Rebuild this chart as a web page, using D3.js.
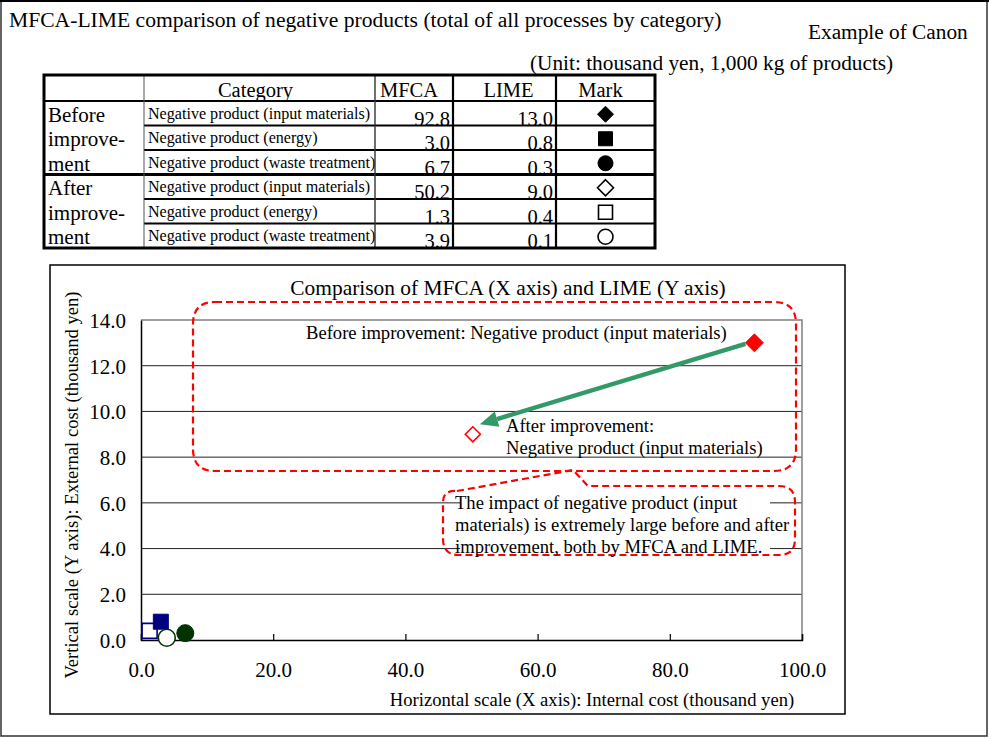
<!DOCTYPE html>
<html>
<head>
<meta charset="utf-8">
<script src="https://cdn.jsdelivr.net/npm/d3@7"></script>
<style>
  html, body { margin: 0; padding: 0; background: #fff; }
  svg { display: block; font-family: "Liberation Serif", "Times New Roman", serif; }
</style>
</head>
<body>
<svg id="page" width="989" height="738"></svg>
<script>
// ---- data ----
const phases = ["Before improvement", "After improvement"];
const phaseLines = [["Before", "improve-", "ment"], ["After", "improve-", "ment"]];
const categories = [
  "Negative product (input materials)",
  "Negative product (energy)",
  "Negative product (waste treatment)"
];
const mfcaBefore = [92.8, 3.0, 6.7];
const limeBefore = [13.0, 0.8, 0.3];
const mfcaAfter = [50.2, 1.3, 3.9];
const limeAfter = [9.0, 0.4, 0.1];
const markShapes = ["diamond", "square", "circle"];
const markColors = ["#ff0000", "#000080", "#003300"];
const tableHeaders = ["Category", "MFCA", "LIME", "Mark"];
const xTicks = [0, 20, 40, 60, 80, 100];
const yTicks = [0, 2, 4, 6, 8, 10, 12, 14];

const titleText = "MFCA-LIME comparison of negative products (total of all processes by category)";
const sourceText = "Example of Canon";
const unitText = "(Unit: thousand yen, 1,000 kg of products)";
const chartTitle = "Comparison of MFCA (X axis) and LIME (Y axis)";
const xTitle = "Horizontal scale (X axis): Internal cost (thousand yen)";
const yTitle = "Vertical scale (Y axis): External cost (thousand yen)";
const noteBefore = "Before improvement: Negative product (input materials)";
const noteAfter = ["After improvement:", "Negative product (input materials)"];
const noteImpact = [
  "The impact of negative product (input",
  "materials) is extremely large before and after",
  "improvement, both by MFCA and LIME."
];

const svg = d3.select("#page");
const fmt = d3.format(".1f");

// shape helper: marker path centered at 0,0
function shapePath(kind, s) {
  if (kind === "diamond") return `M0,${-s}L${s},0L0,${s}L${-s},0Z`;
  if (kind === "square") return `M${-s},${-s}H${s}V${s}H${-s}Z`;
  return d3.arc()({innerRadius: 0, outerRadius: s, startAngle: 0, endAngle: 2 * Math.PI});
}

// ---- page frame and headings ----
svg.append("rect").attr("x", 1).attr("y", 1).attr("width", 986).attr("height", 735)
  .attr("fill", "none").attr("stroke", "#333").attr("stroke-width", 1.5);
svg.append("line").attr("x1", 0).attr("x2", 989).attr("y1", 1).attr("y2", 1)
  .attr("stroke", "#000").attr("stroke-width", 2);

svg.append("text").attr("x", 9).attr("y", 27).attr("font-size", 21.6).text(titleText);
svg.append("text").attr("x", 808).attr("y", 39).attr("font-size", 21.3).text(sourceText);
svg.append("text").attr("x", 530).attr("y", 70).attr("font-size", 21.3).text(unitText);

// ---- table ----
const colX = [44, 144, 375, 453, 556, 655];
const tTop = 75, headH = 26, rowH = 24.5;
const rowY = i => tTop + headH + i * rowH;   // top of data row i
const tbl = svg.append("g");

// header row
const headerCenters = [(colX[1] + colX[2]) / 2 - 4, (colX[2] + colX[3]) / 2 - 5, (colX[3] + colX[4]) / 2 + 4, (colX[4] + colX[5]) / 2 - 5];
tableHeaders.forEach((h, i) => {
  tbl.append("text").attr("x", headerCenters[i]).attr("y", tTop + headH - 4)
    .attr("text-anchor", "middle").attr("font-size", 20.5).text(h);
});

const tableRows = [];
phases.forEach((p, pi) => {
  const mf = pi === 0 ? mfcaBefore : mfcaAfter;
  const li = pi === 0 ? limeBefore : limeAfter;
  categories.forEach((c, ci) => {
    tableRows.push({phase: pi, cat: ci, label: c, mfca: mf[ci], lime: li[ci]});
  });
});

tableRows.forEach((r, i) => {
  const top = rowY(i), bot = rowY(i + 1);
  tbl.append("text").attr("x", 48).attr("y", bot - 4).attr("font-size", 21)
    .text(phaseLines[r.phase][r.cat]);
  tbl.append("text").attr("x", colX[1] + 4).attr("y", bot - 7).attr("font-size", 16.1)
    .text(r.label);
  tbl.append("text").attr("x", colX[3] - 3).attr("y", bot).attr("text-anchor", "end")
    .attr("font-size", 20.5).text(fmt(r.mfca));
  tbl.append("text").attr("x", colX[4] - 3).attr("y", bot).attr("text-anchor", "end")
    .attr("font-size", 20.5).text(fmt(r.lime));
  const filled = r.phase === 0;
  tbl.append("path")
    .attr("transform", `translate(${(colX[4] + colX[5]) / 2},${(top + bot) / 2 + 1})`)
    .attr("d", shapePath(markShapes[r.cat], r.cat === 0 ? 8 : r.cat === 2 ? 7.5 : 7))
    .attr("fill", filled ? "#000" : "#fff")
    .attr("stroke", "#000").attr("stroke-width", filled ? 1 : 1.6);
});

// table rules
const tEnd = rowY(6);
[1, 2, 4, 5].forEach(i => {
  tbl.append("line").attr("x1", colX[1]).attr("x2", colX[5])
    .attr("y1", rowY(i)).attr("y2", rowY(i)).attr("stroke", "#000").attr("stroke-width", 1.8);
});
tbl.append("line").attr("x1", colX[0]).attr("x2", colX[5])
  .attr("y1", rowY(0)).attr("y2", rowY(0)).attr("stroke", "#000").attr("stroke-width", 1.8);
tbl.append("line").attr("x1", colX[0]).attr("x2", colX[5])
  .attr("y1", rowY(3)).attr("y2", rowY(3)).attr("stroke", "#000").attr("stroke-width", 3);
[[1, 1, "#555"], [2, 1.4, "#333"], [3, 2.2, "#000"], [4, 2.2, "#000"]].forEach(([c, w, col]) => {
  tbl.append("line").attr("x1", colX[c]).attr("x2", colX[c])
    .attr("y1", tTop).attr("y2", tEnd).attr("stroke", col).attr("stroke-width", w);
});
tbl.append("rect").attr("x", colX[0]).attr("y", tTop)
  .attr("width", colX[5] - colX[0]).attr("height", tEnd - tTop)
  .attr("fill", "none").attr("stroke", "#000").attr("stroke-width", 3);

// ---- scatter chart ----
svg.append("rect").attr("x", 50).attr("y", 265).attr("width", 795).attr("height", 449)
  .attr("fill", "#fff").attr("stroke", "#000").attr("stroke-width", 1.5);

const x = d3.scaleLinear().domain([0, 100]).range([141, 802]);
const y = d3.scaleLinear().domain([0, 14]).range([640, 320]);

svg.append("text").attr("x", 508).attr("y", 295).attr("text-anchor", "middle")
  .attr("font-size", 21.4).text(chartTitle);

// gridlines
svg.append("g").selectAll("line").data(yTicks.filter(v => v > 0 && v < 14)).join("line")
  .attr("x1", x(0)).attr("x2", x(100)).attr("y1", d => y(d)).attr("y2", d => y(d))
  .attr("stroke", "#222").attr("stroke-width", 1);
// plot frame (top and right)
svg.append("path")
  .attr("d", `M${x(0)},${y(14)}H${x(100)}V${y(0)}`)
  .attr("fill", "none").attr("stroke", "#808080").attr("stroke-width", 1.5);

// white backing behind the impact note
svg.append("rect").attr("x", 460).attr("y", 489).attr("width", 310).attr("height", 66)
  .attr("fill", "#fff");

// axes
const xAxis = svg.append("g").attr("transform", `translate(0,${y(0)})`)
  .call(d3.axisBottom(x).tickValues(xTicks).tickFormat(fmt).tickSize(-6).tickPadding(22));
const yAxis = svg.append("g").attr("transform", `translate(${x(0)},0)`)
  .call(d3.axisLeft(y).tickValues(yTicks).tickFormat(fmt).tickSize(0).tickPadding(15));
[xAxis, yAxis].forEach(g => {
  g.select(".domain").attr("stroke", "#000").attr("stroke-width", 1.5);
  g.selectAll(".tick line").attr("stroke", "#000").attr("stroke-width", 1.2);
  g.selectAll(".tick text").attr("font-size", 21).attr("fill", "#000")
    .attr("font-family", "Liberation Serif, Times New Roman, serif");
});
yAxis.selectAll(".tick text").attr("dy", "0.35em");

svg.append("text").attr("x", 592).attr("y", 706).attr("text-anchor", "middle")
  .attr("font-size", 18.6).text(xTitle);
svg.append("text").attr("transform", "translate(78,485) rotate(-90)")
  .attr("text-anchor", "middle").attr("font-size", 18.6).text(yTitle);

// dashed callouts
const dash = {stroke: "#ff0000", "stroke-width": 2.2, "stroke-dasharray": "7,4", fill: "none"};
function applyAttrs(sel, a) { Object.entries(a).forEach(([k, v]) => sel.attr(k, v)); return sel; }

// callout around the input-material points
const c1 = {l: 193, r: 796, t: 302, b: 471, rad: 22};
applyAttrs(svg.append("path").attr("d",
  `M${c1.l + c1.rad},${c1.t}H${c1.r - c1.rad}Q${c1.r},${c1.t} ${c1.r},${c1.t + c1.rad}` +
  `V${c1.b - c1.rad}Q${c1.r},${c1.b} ${c1.r - c1.rad},${c1.b}H${c1.l + c1.rad}` +
  `Q${c1.l},${c1.b} ${c1.l},${c1.b - c1.rad}V${c1.t + c1.rad}Q${c1.l},${c1.t} ${c1.l + c1.rad},${c1.t}Z`), dash);

// callout with pointer for the impact note
const c2 = {l: 443, r: 795, t: 486, b: 555, rad: 16, tipX: 573, tipY: 470, baseR: 588};
applyAttrs(svg.append("path").attr("d",
  `M${c2.l + 14},${c2.t + 5}L${c2.tipX},${c2.tipY}L${c2.baseR},${c2.t}` +
  `H${c2.r - c2.rad}Q${c2.r},${c2.t} ${c2.r},${c2.t + c2.rad}` +
  `V${c2.b - c2.rad}Q${c2.r},${c2.b} ${c2.r - c2.rad},${c2.b}H${c2.l + c2.rad}` +
  `Q${c2.l},${c2.b} ${c2.l},${c2.b - c2.rad}V${c2.t + c2.rad}Q${c2.l},${c2.t + 4} ${c2.l + 14},${c2.t + 5}`), dash);

// annotation text
svg.append("text").attr("x", 306).attr("y", 339).attr("font-size", 18.6).text(noteBefore);
noteAfter.forEach((t, i) => {
  svg.append("text").attr("x", 506).attr("y", 432 + i * 22).attr("font-size", 18.6).text(t);
});
noteImpact.forEach((t, i) => {
  svg.append("text").attr("x", 455).attr("y", 509 + i * 22).attr("font-size", 18.6).text(t);
});

// data points: after (open) first, before (filled) on top
const pts = [];
categories.forEach((c, i) => {
  pts.push({cat: i, mf: mfcaAfter[i], li: limeAfter[i], filled: false});
  pts.push({cat: i, mf: mfcaBefore[i], li: limeBefore[i], filled: true});
});
const order = [2, 3, 4, 5, 0, 1].map(i => pts[i]);
svg.append("g").selectAll("path").data(order).join("path")
  .attr("transform", d => `translate(${x(d.mf)},${y(d.li)})`)
  .attr("d", d => shapePath(markShapes[d.cat],
    d.cat === 0 ? (d.filled ? 9 : 7.5) : d.cat === 1 ? 7.5 : 8.5))
  .attr("fill", d => d.filled ? markColors[d.cat] : "#fff")
  .attr("stroke", d => markColors[d.cat])
  .attr("stroke-width", d => d.filled ? 1 : 1.6);

// arrow from before to after (input materials)
const sx = x(mfcaBefore[0]) - 9, sy = y(limeBefore[0]) + 1;
const ex = x(mfcaAfter[0]) + 7, ey = y(limeAfter[0]) - 10;
const ang = Math.atan2(ey - sy, ex - sx);
const headL = 18, headW = 8;
const bx = ex - headL * Math.cos(ang), by = ey - headL * Math.sin(ang);
svg.append("line").attr("x1", sx).attr("y1", sy).attr("x2", bx).attr("y2", by)
  .attr("stroke", "#339966").attr("stroke-width", 4.5);
svg.append("path")
  .attr("d", `M${ex},${ey}L${bx + headW * Math.sin(ang)},${by - headW * Math.cos(ang)}` +
    `L${bx - headW * Math.sin(ang)},${by + headW * Math.cos(ang)}Z`)
  .attr("fill", "#339966");
</script>
</body>
</html>
